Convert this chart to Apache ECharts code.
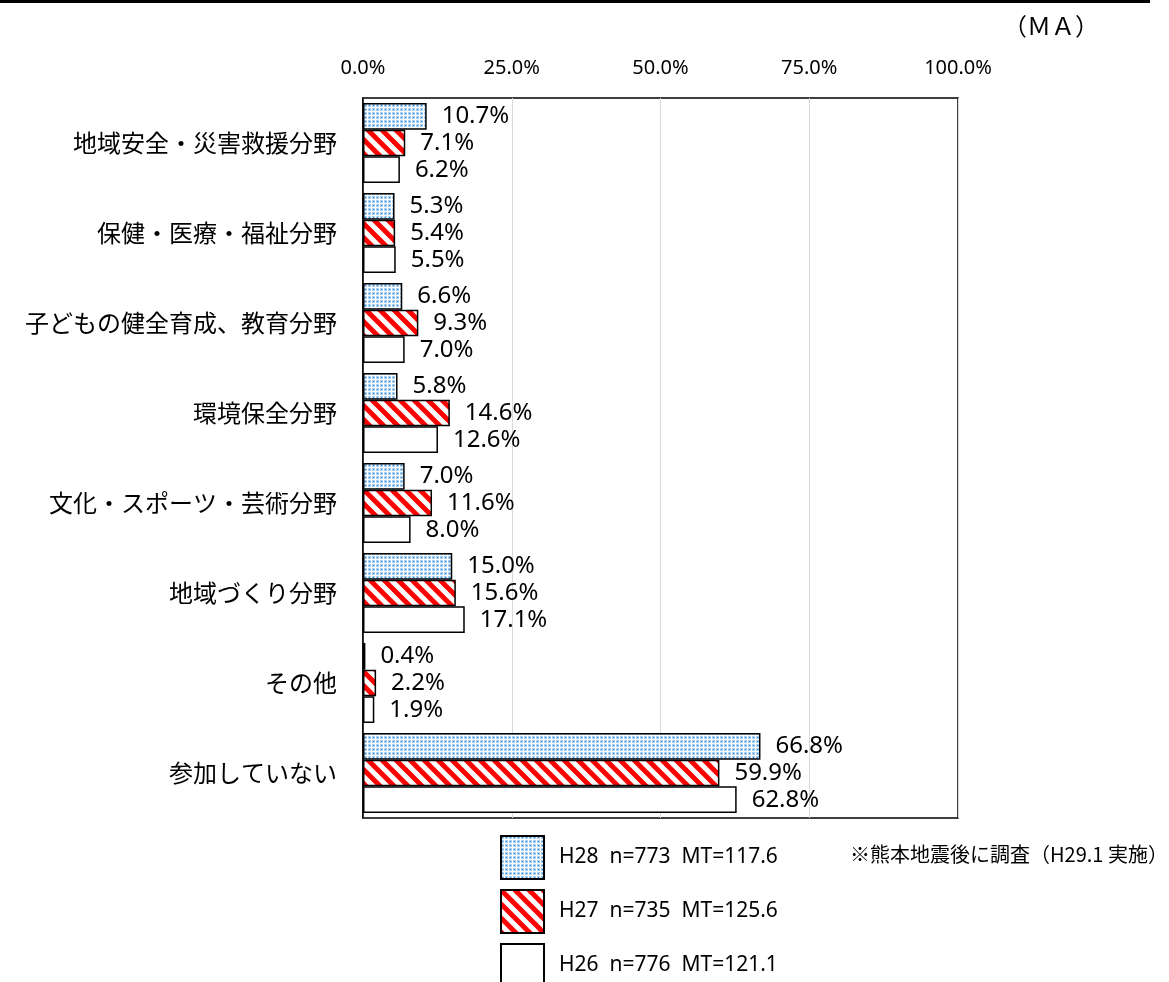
<!DOCTYPE html>
<html>
<head>
<meta charset="utf-8">
<script src="https://cdn.jsdelivr.net/npm/echarts@6/dist/echarts.min.js"></script>
<style>
  html, body { margin: 0; padding: 0; background: #fff; }
  #main { width: 1169px; height: 982px; }
</style>
</head>
<body>
<div id="main"></div>
<script>
// categories (top to bottom)
var categories = ['地域安全・災害救援分野', '保健・医療・福祉分野', '子どもの健全育成、教育分野', '環境保全分野',
  '文化・スポーツ・芸術分野', '地域づくり分野', 'その他', '参加していない'];
var seriesNames = ['H28  n=773  MT=117.6', 'H27  n=735  MT=125.6', 'H26  n=776  MT=121.1'];
var h28 = [10.7, 5.3, 6.6, 5.8, 7.0, 15.0, 0.4, 66.8];
var h27 = [7.1, 5.4, 9.3, 14.6, 11.6, 15.6, 2.2, 59.9];
var h26 = [6.2, 5.5, 7.0, 12.6, 8.0, 17.1, 1.9, 62.8];
var xTicks = [0, 25, 50, 75, 100];

// 点描パターン (H28)
function dotPattern () {
  var c = document.createElement('canvas');
  c.width = 4; c.height = 4;
  var ctx = c.getContext('2d');
  ctx.fillStyle = '#ffffff';
  ctx.fillRect(0, 0, 4, 4);
  ctx.fillStyle = '#a9cff1';
  ctx.fillRect(0, 0, 3, 3);
  ctx.fillStyle = '#2f86d4';
  ctx.fillRect(1, 1, 1, 1);
  return c;
}
// 斜線パターン (H27)
function stripePattern () {
  var n = 14;
  var c = document.createElement('canvas');
  c.width = n; c.height = n;
  var ctx = c.getContext('2d');
  ctx.fillStyle = '#ffffff';
  ctx.fillRect(0, 0, n, n);
  ctx.strokeStyle = '#ff0000';
  ctx.lineWidth = 5;
  for (var k = -1; k <= 1; k++) {
    ctx.beginPath();
    ctx.moveTo(k * n - 4, -4);
    ctx.lineTo(k * n + n + 4, n + 4);
    ctx.stroke();
  }
  return c;
}

var fills = [
  { image: dotPattern(), repeat: 'repeat' },
  { image: stripePattern(), repeat: 'repeat' },
  '#ffffff'
];
var values = [h28, h27, h26];

var chart = echarts.init(document.getElementById('main'));
var option = {
  backgroundColor: '#ffffff',
  animation: false,
  grid: {
    left: 363, right: 211, top: 98, bottom: 164,
    show: true, borderColor: '#000', borderWidth: 1.5
  },
  xAxis: {
    type: 'value',
    position: 'top',
    min: 0, max: 100, interval: 25,
    axisLine: { show: false },
    axisTick: { show: false },
    splitLine: { lineStyle: { color: '#d9d9d9', width: 1 } },
    axisLabel: {
      margin: 20,
      fontSize: 20,
      color: '#000',
      fontFamily: 'Noto Sans',
      formatter: function (v) { return xTicks.indexOf(v) >= 0 ? v.toFixed(1) + '%' : ''; }
    }
  },
  yAxis: {
    type: 'category',
    inverse: true,
    data: categories,
    axisLine: { lineStyle: { color: '#000', width: 1.5 } },
    axisTick: { length: 8, lineStyle: { color: '#000', width: 1.5 } },
    axisLabel: {
      margin: 26,
      fontSize: 24,
      color: '#000',
      fontFamily: 'Noto Sans CJK JP'
    }
  },
  legend: {
    orient: 'vertical',
    left: 500, top: 835, height: 200,
    padding: 0,
    itemWidth: 43, itemHeight: 43, itemGap: 9,
    icon: 'rect',
    data: seriesNames,
    textStyle: { fontSize: 21, color: '#000', fontFamily: 'Noto Sans', padding: [0, 0, 0, 10] }
  },
  graphic: [
    { type: 'rect', left: 0, top: 0, shape: { width: 1150, height: 3 }, style: { fill: '#000' } },
    { type: 'text', left: 1003, top: 14, style: { text: '（ＭＡ）', fontSize: 24, fill: '#000', fontFamily: 'Noto Sans CJK JP' } },
    { type: 'text', left: 850, top: 844, style: { text: '※熊本地震後に調査（H29.1 実施）', fontSize: 20, fill: '#000', fontFamily: 'Noto Sans CJK JP' } }
  ],
  series: seriesNames.map(function (name, i) {
    return {
      name: name,
      type: 'bar',
      data: values[i],
      barGap: '0%',
      barCategoryGap: '11%',
      itemStyle: { color: fills[i], borderColor: '#000', borderWidth: 1.5 },
      label: {
        show: true,
        position: 'right',
        distance: 15,
        fontSize: 24,
        color: '#000',
        fontFamily: 'Noto Sans',
        formatter: function (p) { return p.value.toFixed(1) + '%'; }
      }
    };
  })
};
chart.setOption(option);
</script>
</body>
</html>
